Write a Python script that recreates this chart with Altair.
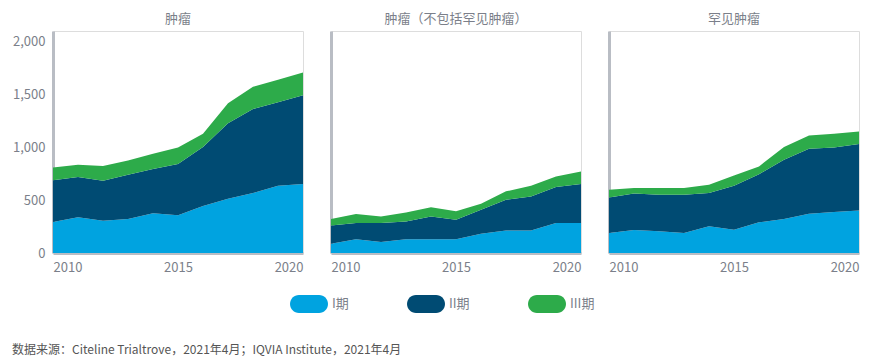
import altair as alt
import pandas as pd

years = list(range(2010, 2021))
phases = ["I期", "II期", "III期"]
panel_titles = ["肿瘤", "肿瘤（不包括罕见肿瘤）", "罕见肿瘤"]

# 肿瘤
all_I = [293, 337, 306, 321, 375, 356, 444, 513, 567, 636, 652]
all_II = [394, 381, 377, 419, 419, 485, 558, 715, 794, 791, 841]
all_III = [122, 117, 139, 136, 145, 157, 126, 189, 211, 211, 214]
# 肿瘤（不包括罕见肿瘤）
non_I = [88, 129, 104, 129, 129, 129, 183, 214, 214, 283, 283]
non_II = [173, 154, 179, 170, 217, 186, 226, 290, 321, 341, 369]
non_III = [60, 86, 63, 85, 86, 79, 57, 79, 101, 100, 120]
# 罕见肿瘤
rare_I = [189, 217, 205, 189, 252, 220, 290, 321, 372, 387, 403]
rare_II = [337, 347, 346, 362, 315, 416, 456, 561, 614, 611, 627]
rare_III = [72, 50, 63, 63, 79, 98, 73, 120, 126, 130, 120]

colors = ["#00a3e0", "#004b73", "#2dab4a"]
y_ticks = [0, 500, 1000, 1500, 2000]
x_ticks = [2010, 2015, 2020]

FONT = "Noto Sans CJK SC"
GRAY = "#7b7f8a"
AXIS_GRAY = "#b9bdc4"

pill = "M-0.53,-0.47L0.53,-0.47A0.47,0.47 0 0 1 0.53,0.47L-0.53,0.47A0.47,0.47 0 0 1 -0.53,-0.47Z"


def make_df(series):
    rows = []
    for k, (ph, vals) in enumerate(zip(phases, series)):
        for yr, v in zip(years, vals):
            rows.append({"year": yr, "phase": ph, "value": v, "ord": k})
    return pd.DataFrame(rows)


def panel(series, title, first):
    df = make_df(series)
    yaxis = alt.Axis(
        values=y_ticks, format=",d", labels=first, ticks=False, grid=False,
        domainColor=AXIS_GRAY, domainWidth=3, labelColor=GRAY, labelFontSize=13,
        labelPadding=8, title=None, labelFont=FONT,
    )
    xaxis = alt.Axis(
        values=x_ticks, format="d", ticks=False, grid=False, labelFlush=True,
        domainColor=AXIS_GRAY, domainWidth=3, labelColor=GRAY, labelFontSize=13,
        labelPadding=8, title=None, labelFont=FONT,
    )
    legend = alt.Legend(
        title=None, orient="none", legendX=237, legendY=254, direction="horizontal",
        symbolType=pill, symbolSize=1444, symbolStrokeWidth=0, symbolOpacity=1,
        labelFontSize=13, labelColor=GRAY, labelFont=FONT, columnPadding=58,
        labelOffset=4,
    )
    return (
        alt.Chart(df, title=alt.TitleParams(title, fontSize=13, color=GRAY, font=FONT,
                                            fontWeight="normal", offset=5))
        .mark_area(opacity=1)
        .encode(
            x=alt.X("year:Q", scale=alt.Scale(domain=[2010, 2020], nice=False, zero=False), axis=xaxis),
            y=alt.Y("value:Q", stack="zero", scale=alt.Scale(domain=[0, 2100], nice=False), axis=yaxis),
            color=alt.Color("phase:N", scale=alt.Scale(domain=phases, range=colors), legend=legend),
            order=alt.Order("ord:Q", sort="ascending"),
        )
        .properties(width=250, height=222)
    )


c1 = panel([all_I, all_II, all_III], panel_titles[0], True)
c2 = panel([non_I, non_II, non_III], panel_titles[1], False)
c3 = panel([rare_I, rare_II, rare_III], panel_titles[2], False)

chart = (
    alt.hconcat(c1, c2, c3, spacing=26)
    .properties(
        padding={"left": 4, "top": 4, "right": 0, "bottom": 0},
        title=alt.TitleParams(
            "数据来源：Citeline Trialtrove，2021年4月；IQVIA Institute，2021年4月",
            orient="bottom", anchor="start", fontSize=12, color="#555555", font=FONT,
            fontWeight="normal", offset=32,
        ),
    )
    .configure_view(stroke="transparent", strokeWidth=0)
    .configure(background="white")
)

chart.save("out.html", embed_options={"renderer": "svg", "actions": False})
